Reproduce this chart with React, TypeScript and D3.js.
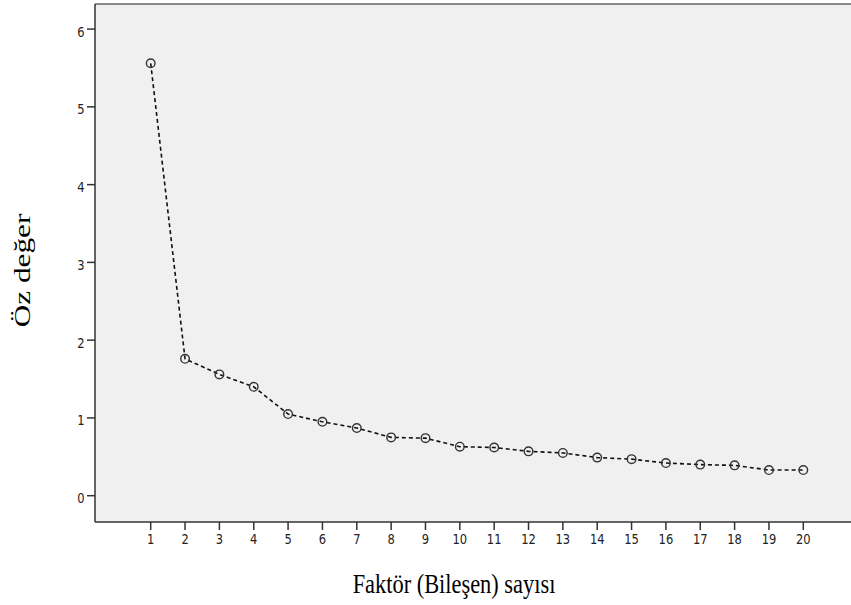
import React from "react";
import * as d3 from "d3";

// Scree plot: eigenvalue per factor (component) number
const factors: number[] = d3.range(1, 21);
const eigenvalues: number[] = [
  5.56, 1.76, 1.56, 1.4, 1.05, 0.95, 0.87, 0.75, 0.74, 0.63,
  0.62, 0.57, 0.55, 0.49, 0.47, 0.42, 0.4, 0.39, 0.33, 0.33,
];
const yTicks: number[] = [0, 1, 2, 3, 4, 5, 6];
const xTitle = "Faktör (Bileşen)  sayısı";
const yTitle = "Öz değer";

const W = 851;
const H = 605;
const plot = { left: 95, top: 4, right: 852, bottom: 522 };
// vertical stretch applied to the text glyphs
const stretch = 1.22;

export default function App() {
  const x = d3.scaleLinear().domain([1, 20]).range([150.7, 803.3]);
  const y = d3.scaleLinear().domain([0, 6]).range([495.7, 29.1]);

  const line = d3
    .line<number>()
    .x((_, i) => x(factors[i]))
    .y((d) => y(d));

  const tickFont = "'DejaVu Sans', Verdana, sans-serif";
  const titleFont = "'Liberation Serif', 'Times New Roman', serif";

  return (
    <svg
      width={W}
      height={H}
      style={{ position: "absolute", left: 0, top: 0, background: "#fff" }}
    >
      <rect
        x={plot.left}
        y={plot.top}
        width={plot.right - plot.left}
        height={plot.bottom - plot.top}
        fill="#f0f0f0"
      />
      {/* top frame */}
      <line
        x1={plot.left}
        x2={plot.right}
        y1={plot.top}
        y2={plot.top}
        stroke="#8a8a8a"
        strokeWidth={2}
      />
      {/* left and bottom axes */}
      <line
        x1={plot.left}
        x2={plot.left}
        y1={plot.top}
        y2={plot.bottom}
        stroke="#333"
        strokeWidth={1.5}
      />
      <line
        x1={plot.left}
        x2={plot.right}
        y1={plot.bottom}
        y2={plot.bottom}
        stroke="#333"
        strokeWidth={1.5}
      />
      {yTicks.map((t) => (
        <g key={"y" + t}>
          <line
            x1={plot.left - 8}
            x2={plot.left}
            y1={y(t)}
            y2={y(t)}
            stroke="#333"
            strokeWidth={1.5}
          />
          <text
            transform={`translate(${plot.left - 10.5}, ${y(t) + 2.5}) scale(1, ${stretch})`}
            dy="0.35em"
            textAnchor="end"
            fontFamily={tickFont}
            fontSize={11.5}
            fill="#222"
          >
            {t}
          </text>
        </g>
      ))}
      {factors.map((f) => (
        <g key={"x" + f}>
          <line
            x1={x(f)}
            x2={x(f)}
            y1={plot.bottom}
            y2={plot.bottom + 8}
            stroke="#333"
            strokeWidth={1.5}
          />
          <text
            transform={`translate(${x(f)}, ${plot.bottom + 17.5}) scale(1, ${stretch})`}
            dy="0.35em"
            textAnchor="middle"
            fontFamily={tickFont}
            fontSize={11.5}
            fill="#222"
          >
            {f}
          </text>
        </g>
      ))}
      <path
        d={line(eigenvalues) ?? ""}
        fill="none"
        stroke="#111"
        strokeWidth={1.6}
        strokeDasharray="4,3"
      />
      {eigenvalues.map((v, i) => (
        <circle
          key={"p" + i}
          cx={x(factors[i])}
          cy={y(v)}
          r={4.3}
          fill="none"
          stroke="#333"
          strokeWidth={1.4}
        />
      ))}
      <text
        transform={`translate(454, 593) scale(1, 1.25)`}
        textAnchor="middle"
        fontFamily={titleFont}
        fontSize={22.4}
        fill="#000"
      >
        {xTitle}
      </text>
      <text
        transform={`translate(30, 270.5) rotate(-90) scale(1.36, 1)`}
        textAnchor="middle"
        fontFamily={titleFont}
        fontSize={23}
        fill="#000"
      >
        {yTitle}
      </text>
    </svg>
  );
}
